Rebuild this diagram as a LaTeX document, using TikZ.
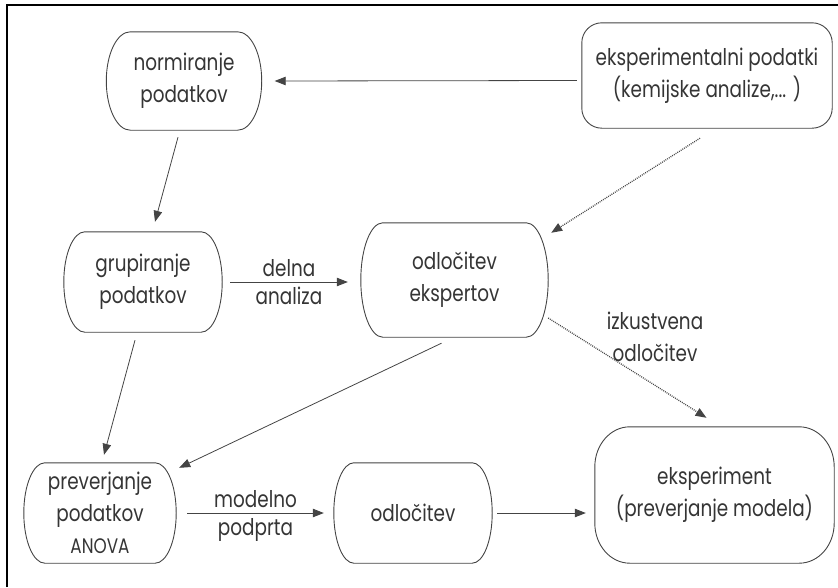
\documentclass[tikz,border=0pt]{standalone}
\usepackage{fontspec}
\setmainfont{Poppins}[FakeStretch=0.8]
\usetikzlibrary{calc,arrows.meta}
\definecolor{ln}{HTML}{444444}
\definecolor{tx}{HTML}{353535}
\newcommand\boxoutline[3]{%
 \draw[boxline] ($(#1.north west)+(#2,0)$) -- ($(#1.north east)+(-#2,0)$)
  .. controls +(0.552*#2,0) and +(0,-0.552*#3) .. ($(#1.north east)+(0,#3)$)
  -- ($(#1.south east)+(0,-#3)$)
  .. controls +(0,0.552*#3) and +(0.552*#2,0) .. ($(#1.south east)+(-#2,0)$)
  -- ($(#1.south west)+(#2,0)$)
  .. controls +(-0.552*#2,0) and +(0,0.552*#3) .. ($(#1.south west)+(0,-#3)$)
  -- ($(#1.north west)+(0,#3)$)
  .. controls +(0,-0.552*#3) and +(-0.552*#2,0) .. ($(#1.north west)+(#2,0)$) -- cycle;}
\begin{document}
\begin{tikzpicture}[x=1pt,y=-1pt,
  boxline/.style={draw=ln, line width=0.9pt},
  txt/.style={inner sep=0pt, align=center, text=tx, font=\fontsize{23}{32}\selectfont},
  lbl/.style={inner sep=0pt, align=center, text=tx, font=\fontsize{23}{32}\selectfont},
  conn/.style={draw=ln, line width=0.8pt, -{Triangle[length=11pt,width=8.5pt]}},
  dconn/.style={conn, dash pattern=on 0.9pt off 1.1pt, line width=1.3pt}]
\useasboundingbox (0,0) rectangle (838,587);
\draw[line width=1.4pt] (7,587) -- (7,5) -- (838,5);

\node[txt, minimum width=155pt, minimum height=98pt] (norm) at (184,81) {normiranje\\podatkov};
\node[txt, minimum width=250pt, minimum height=105pt] (eksp) at (707,75.5) {eksperimentalni podatki\\(kemijske analize,... )};
\node[txt, minimum width=158pt, minimum height=100pt] (grup) at (143,282) {grupiranje\\podatkov};
\node[txt, minimum width=187pt, minimum height=114pt] (ekspt) at (454.5,280) {odločitev\\ekspertov};
\node[txt, minimum width=152pt, minimum height=100pt] (prev) at (100,513) {preverjanje\\podatkov\\{\fontsize{21}{28}\selectfont ANOVA}};
\node[txt, minimum width=158pt, minimum height=100pt] (odl) at (413,513) {odločitev};
\node[txt, minimum width=239pt, minimum height=136pt] (expm) at (714.5,495) {eksperiment\\(preverjanje modela)};

\boxoutline{norm}{24}{49}
\boxoutline{eksp}{20}{20}
\boxoutline{grup}{21}{50}
\boxoutline{ekspt}{22}{57}
\boxoutline{prev}{21}{50}
\boxoutline{odl}{20}{50}
\boxoutline{expm}{35}{40}

\draw[conn] ($(eksp.west)+(-5,5)$) -- ($(norm.east)+(13,0)$);
\draw[conn] ($(norm.south)+(-6,7)$) -- ($(grup.north)+(12,-10)$);
\draw[conn] ($(grup.south)+(-8,8)$) -- ($(prev.north)+(4,-8)$);
\draw[conn] ($(grup.east)+(8,0)$) -- node[lbl, above=5pt] (delna) {delna} node[lbl, below=5pt] (analiza) {analiza} ($(ekspt.west)+(-13,2)$);
\draw[dconn] ($(eksp.south)+(-7,10)$) -- ($(ekspt.north east)+(3,10)$);
\draw[conn] ($(ekspt.south)+(-13,6)$) -- ($(prev.north east)+(3,5)$);
\draw[dconn] ($(ekspt.east)+(0,38)$) -- ($(expm.north)+(-8,-9)$);
\draw[conn] ($(prev.east)+(11,0)$) -- node[lbl, above=5pt] (modelno) {modelno} node[lbl, below=5pt] (podprta) {podprta} ($(odl.west)+(-10,0)$);
\draw[conn] ($(odl.east)+(5,0)$) -- ($(expm.west)+(-9,18)$);
\node[lbl] (izk) at (655,337) {izkustvena\\odločitev};
\end{tikzpicture}
\end{document}
